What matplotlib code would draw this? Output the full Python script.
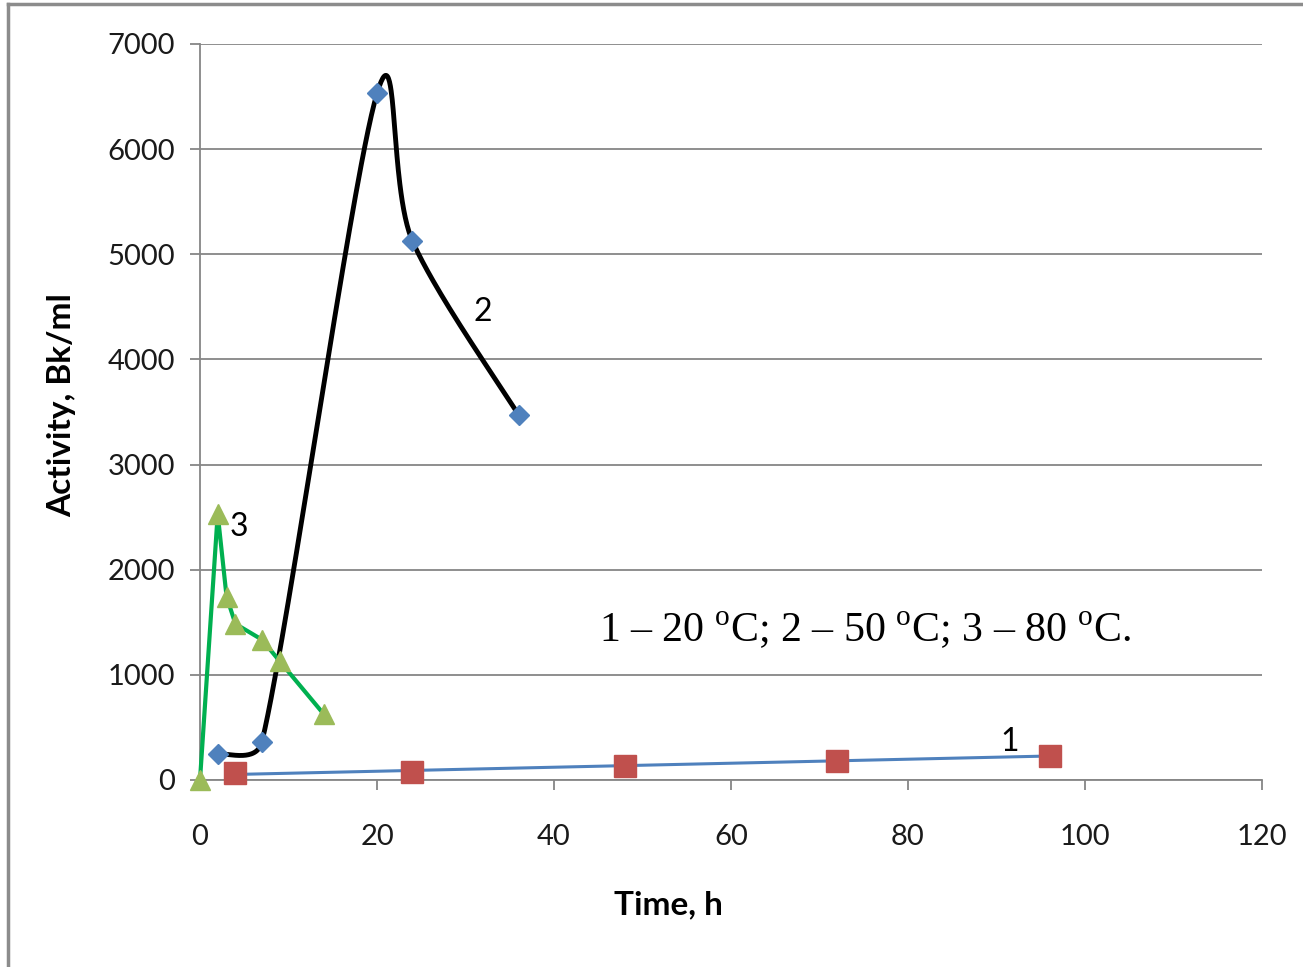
import matplotlib
matplotlib.use("Agg")
import matplotlib.pyplot as plt
from matplotlib.lines import Line2D
import numpy as np

# series 1: 20 C (red squares + linear trend)
t1 = [4, 24, 48, 72, 96]
a1 = [62, 80, 134, 185, 230]
# series 2: 50 C (blue diamonds, smoothed black line)
t2 = [2, 7, 20, 24, 36]
a2 = [247, 364, 6530, 5127, 3472]
# series 3: 80 C (green triangles)
t3 = [0, 2, 3, 4, 7, 9, 14]
a3 = [0, 2530, 1745, 1485, 1335, 1130, 625]

xticks = [0, 20, 40, 60, 80, 100, 120]
yticks = [0, 1000, 2000, 3000, 4000, 5000, 6000, 7000]

GRID = "#868686"
plt.rcParams["font.family"] = ["Lato", "DejaVu Sans"]
plt.rcParams["mathtext.fontset"] = "custom"
plt.rcParams["mathtext.rm"] = "Liberation Serif"


def smooth(ax, xs, ys, n=60, lim=0.5):
    # Bezier through the points in screen space, Catmull-Rom tangents,
    # control arms capped at a fraction of the adjacent chord
    p = ax.transData.transform(np.column_stack([xs, ys]))
    out = []
    for i in range(len(p) - 1):
        p0 = p[i - 1] if i > 0 else p[i]
        p3 = p[i + 2] if i + 2 < len(p) else p[i + 1]
        chord = np.linalg.norm(p[i + 1] - p[i])
        v1 = (p[i + 1] - p0) / 6
        v2 = (p3 - p[i]) / 6
        for v in (v1, v2):
            L = np.linalg.norm(v)
            if L > lim * chord:
                v *= lim * chord / L
        c1, c2 = p[i] + v1, p[i + 1] - v2
        t = np.linspace(0, 1, n)[:, None]
        out.append((1 - t) ** 3 * p[i] + 3 * (1 - t) ** 2 * t * c1
                   + 3 * (1 - t) * t ** 2 * c2 + t ** 3 * p[i + 1])
    s = ax.transData.inverted().transform(np.vstack(out))
    return s[:, 0], s[:, 1]


fig = plt.figure(figsize=(13.03, 9.67), dpi=100)
ax = fig.add_axes([200 / 1303, 1 - 780 / 967, 1062 / 1303, 736 / 967])

ax.set_xlim(0, 120)
ax.set_ylim(0, 7000)
ax.set_xticks(xticks)
ax.set_yticks(yticks)
ax.yaxis.grid(True, color=GRID, lw=1.3)
ax.set_axisbelow(True)
for s in ["top", "right"]:
    ax.spines[s].set_visible(False)
for s in ["left", "bottom"]:
    ax.spines[s].set_color(GRID)
    ax.spines[s].set_linewidth(1.3)
ax.tick_params(axis="both", colors=GRID, length=7, width=1.3, labelsize=21,
               labelcolor="#1a1a1a")
ax.tick_params(axis="x", pad=25)
ax.tick_params(axis="y", pad=11)

# series 1 trendline
k, b = np.polyfit(t1, a1, 1)
xt = np.array([t1[0], t1[-1]])
ax.plot(xt, k * xt + b, color="#4F81BD", lw=2.2, zorder=3, solid_capstyle="butt")
ax.plot(t1, a1, ls="none", marker="s", ms=16, color="#C0504D", zorder=4, clip_on=False)

# series 2
sx, sy = smooth(ax, t2, a2)
ax.plot(sx, sy, color="black", lw=3.5, zorder=5)
ax.plot(t2, a2, ls="none", marker="D", ms=10, color="#4F81BD", zorder=6, clip_on=False)

# series 3
ax.plot(t3, a3, color="#00B050", lw=3, zorder=7, clip_on=False)
ax.plot(t3, a3, ls="none", marker="^", ms=15, color="#9BBB59", zorder=8, clip_on=False)

ax.text(3.3, 2410, "3", fontsize=23, va="center", ha="left", zorder=9)
ax.text(31.9, 4450, "2", fontsize=23, va="center", ha="center")
ax.text(91.5, 365, "1", fontsize=23, va="center", ha="center")
ax.text(45.1, 1430, r"1 – 20 $^{\mathrm{o}}$C; 2 – 50 $^{\mathrm{o}}$C; 3 – 80 $^{\mathrm{o}}$C.",
        family="Liberation Serif", fontsize=30.2, va="center", ha="left")

ax.set_ylabel("Activity, Bk/ml", fontsize=24, fontweight="bold")
ax.set_xlabel("Time, h", fontsize=24, fontweight="bold")
ax.yaxis.set_label_coords((62 - 200) / 1062, (780 - 405) / 736)
ax.xaxis.set_label_coords((668 - 200) / 1062, (780 - 905) / 736)
ax.xaxis.label.set_va("center")
ax.yaxis.label.set_va("center")

# figure frame (left and top edges only)
fig.add_artist(Line2D([7.5 / 1303, 7.5 / 1303], [0, 1 - 4 / 967], transform=fig.transFigure,
                      color="#8c8c8c", lw=2.5))
fig.add_artist(Line2D([7.5 / 1303, 1], [1 - 4 / 967, 1 - 4 / 967], transform=fig.transFigure,
                      color="#8c8c8c", lw=2.5))

fig.savefig("out.png", dpi=100)
